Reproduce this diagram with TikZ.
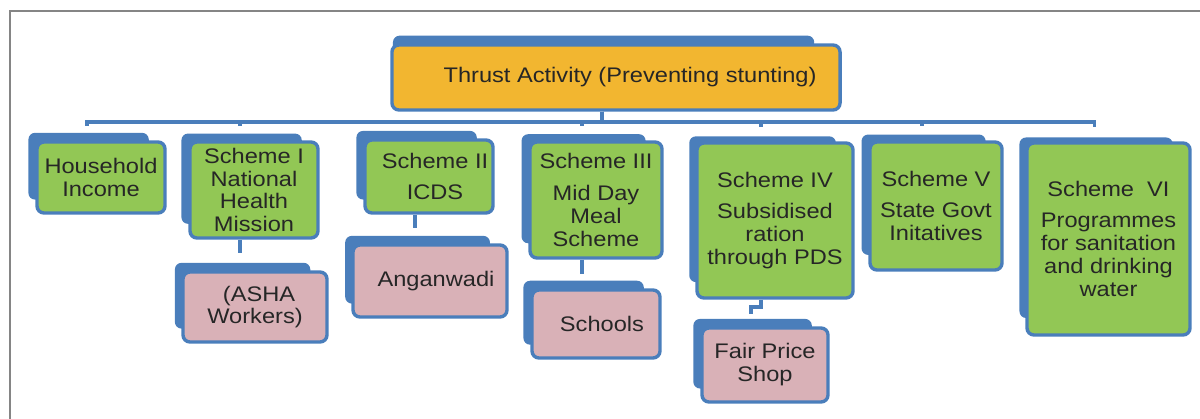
\documentclass[tikz,border=0pt]{standalone}
\usepackage{fontspec}
\setmainfont{Liberation Sans}[FakeStretch=1.12]
\usetikzlibrary{shadows}

\definecolor{chartblue}{HTML}{4A7EBB}
\definecolor{schemegreen}{HTML}{92C755}
\definecolor{thrustgold}{HTML}{F2B630}
\definecolor{unitpink}{HTML}{D9B1B7}
\definecolor{framegray}{HTML}{858585}

\tikzset{
    base/.style={draw=chartblue, line width=2.4pt, rounded corners=5pt, align=center,
        text=black!85, font=\fontsize{15}{16.3}\selectfont, inner sep=2pt,
        general shadow={shadow xshift=-0.33cm, shadow yshift=0.3cm, shadow scale=0.94, fill=chartblue}},
    topic/.style={base, fill=thrustgold},
    scheme/.style={base, fill=schemegreen},
    unit/.style={base, fill=unitpink},
    link/.style={draw=chartblue, line width=2.6pt},
}

\begin{document}
\begin{tikzpicture}[x=0.025cm, y=-0.025cm]
    \useasboundingbox (0,0) rectangle (1200,419);
    \draw[framegray, line width=1.5pt] (1200,11) -- (10,11) -- (10,419);

    \node[topic, minimum width=11.2cm, minimum height=1.625cm] (top) at (616,77.5) {\hspace*{0.7cm}Thrust Activity (Preventing stunting)};

    \node[scheme, minimum width=3.2cm, minimum height=1.775cm] (hh) at (101,177.5) {Household\\Income};
    \node[scheme, minimum width=3.2cm, minimum height=2.4cm] (s1) at (254,190) {Scheme I\\National\\Health\\Mission};
    \node[scheme, minimum width=3.2cm, minimum height=1.825cm] (s2) at (429,176.5) {\hspace*{0.3cm}Scheme II\\[6pt]\hspace*{0.3cm}ICDS};
    \node[scheme, minimum width=3.3cm, minimum height=2.9cm] (s3) at (596,200) {Scheme III\\[6pt]Mid Day\\Meal\\Scheme};
    \node[scheme, minimum width=3.9cm, minimum height=3.875cm] (s4) at (775,220.5) {Scheme IV\\[6pt]Subsidised\\ration\\through PDS};
    \node[scheme, minimum width=3.3cm, minimum height=3.2cm] (s5) at (936,206) {Scheme V\\[6pt]State Govt\\Initatives};
    \node[scheme, minimum width=4.075cm, minimum height=4.8cm] (s6) at (1108.5,239) {Scheme\ \ VI\\[6pt]Programmes\\for sanitation\\and drinking\\water};

    \node[unit, minimum width=3.6cm, minimum height=1.75cm] (asha) at (255,307) {\hspace*{0.2cm}(ASHA\\Workers)};
    \node[unit, minimum width=3.85cm, minimum height=1.8cm] (ang) at (430,281) {\hspace*{0.3cm}Anganwadi};
    \node[unit, minimum width=3.2cm, minimum height=1.7cm] (sch) at (596,324) {\hspace*{0.3cm}Schools};
    \node[unit, minimum width=3.15cm, minimum height=1.85cm] (fps) at (765,365) {Fair Price\\Shop};

    % tree from the thrust box down to the schemes
    \foreach \k in {hh,s1,s2,s3,s4,s5,s6}
        \draw[link, shorten >=0.35cm] ([xshift=-0.35cm]top.south) -- ++(0,10) -| ([xshift=-0.35cm]\k.north);

    \draw[link, shorten >=0.42cm] ([xshift=-0.35cm]s1.south) -- ([xshift=-0.35cm]s1.south |- asha.north);
    \draw[link, shorten >=0.37cm] ([xshift=-0.35cm]s2.south) -- ([xshift=-0.35cm]s2.south |- ang.north);
    \draw[link, shorten >=0.37cm] ([xshift=-0.35cm]s3.south) -- ([xshift=-0.35cm]s3.south |- sch.north);
    \draw[link, shorten >=0.32cm] ([xshift=-0.35cm]s4.south) -- ++(0,7) -| ([xshift=-0.35cm]fps.north);
\end{tikzpicture}
\end{document}
